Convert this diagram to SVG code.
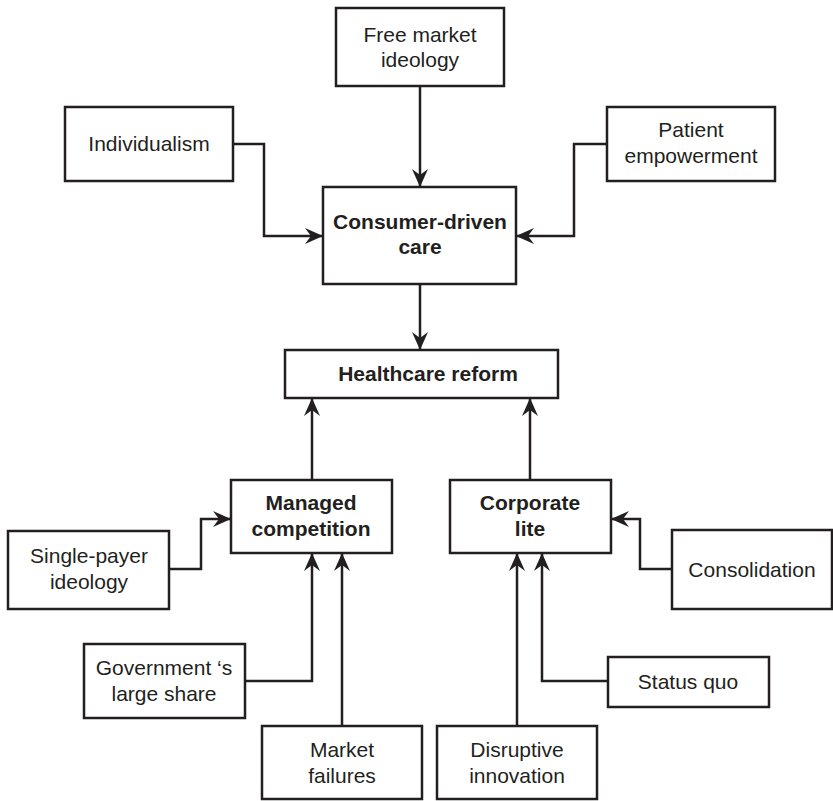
<svg xmlns="http://www.w3.org/2000/svg" width="833" height="801" viewBox="0 0 833 801">
<style>
rect{fill:#fff;stroke:#231f20;stroke-width:2.5}
text{font-family:"Liberation Sans",Arial,sans-serif;font-size:21px;fill:#231f20;text-anchor:middle}
.b{font-weight:bold}
#connectors path{fill:none;stroke:#231f20;stroke-width:2.5;marker-end:url(#ah)}
</style>
<defs>
<marker id="ah" viewBox="0 0 18 16" refX="18" refY="8" markerWidth="18" markerHeight="16" markerUnits="userSpaceOnUse" orient="auto">
<path d="M0,0 L18,8 L0,16 L6,8 z" fill="#231f20"/>
</marker>
</defs>
<rect width="833" height="801" style="fill:#fff;stroke:none"/>
<g id="connectors">
<path d="M420,86 V187"/>
<path d="M233,144 H264 V236 H323"/>
<path d="M607,144 H574 V236 H516"/>
<path d="M420,284 V350"/>
<path d="M312,479 V398"/>
<path d="M530,479 V398"/>
<path d="M169,569 H201 V519 H231"/>
<path d="M245,681 H312 V553"/>
<path d="M342,726 V553"/>
<path d="M672,569 H640 V519 H611"/>
<path d="M608,681 H542 V553"/>
<path d="M517,726 V553"/>
</g>
<g id="free-market"><rect x="336" y="8" width="168" height="78"/><text x="420" y="42">Free market</text><text x="420" y="67">ideology</text></g>
<g id="individualism"><rect x="65" y="107" width="168" height="74"/><text x="149" y="151">Individualism</text></g>
<g id="patient"><rect x="607" y="107" width="168" height="74"/><text x="691" y="137">Patient</text><text x="691" y="163">empowerment</text></g>
<g id="consumer"><rect x="323" y="187" width="193" height="97"/><text class="b" x="420" y="229">Consumer-driven</text><text class="b" x="420" y="254">care</text></g>
<g id="healthcare"><rect x="285" y="350" width="273" height="48"/><text class="b" x="428" y="381">Healthcare reform</text></g>
<g id="managed"><rect x="231" y="480" width="161" height="73"/><text class="b" x="311" y="510">Managed</text><text class="b" x="311" y="536">competition</text></g>
<g id="corporate"><rect x="450" y="480" width="161" height="73"/><text class="b" x="530" y="510">Corporate</text><text class="b" x="530" y="536">lite</text></g>
<g id="single-payer"><rect x="8" y="531" width="161" height="78"/><text x="89" y="563">Single-payer</text><text x="89" y="589">ideology</text></g>
<g id="government"><rect x="84" y="644" width="161" height="74"/><text x="164" y="675">Government ‘s</text><text x="164" y="701">large share</text></g>
<g id="market-failures"><rect x="262" y="726" width="160" height="73"/><text x="342" y="757">Market</text><text x="342" y="783">failures</text></g>
<g id="disruptive"><rect x="437" y="726" width="160" height="73"/><text x="517" y="757">Disruptive</text><text x="517" y="783">innovation</text></g>
<g id="consolidation"><rect x="672" y="530" width="160" height="79"/><text x="752" y="577">Consolidation</text></g>
<g id="status-quo"><rect x="608" y="657" width="161" height="50"/><text x="688" y="689">Status quo</text></g>
</svg>
